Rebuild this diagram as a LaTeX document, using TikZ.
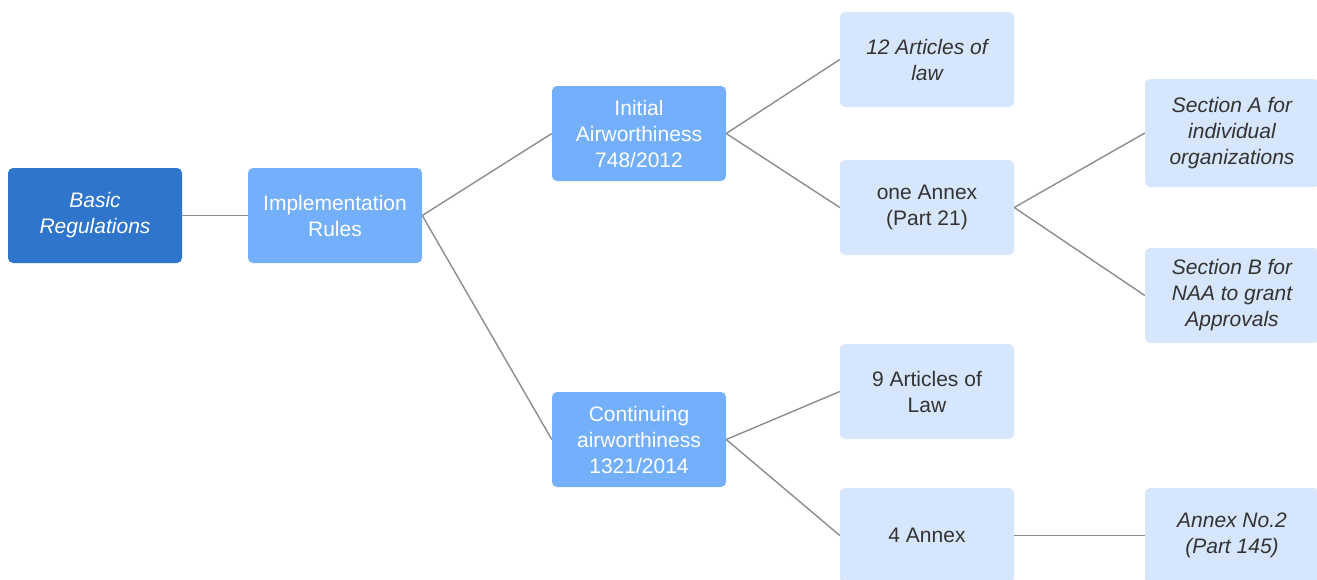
\documentclass[tikz,border=0pt]{standalone}
\usepackage{fontspec}
\setmainfont{Liberation Sans}
\definecolor{rootblue}{HTML}{2F75CB}
\definecolor{midblue}{HTML}{74AFFB}
\definecolor{paleblue}{HTML}{D6E6FC}
\definecolor{linkgray}{HTML}{8C8C8C}
\definecolor{darktext}{HTML}{333333}
\tikzset{
  box/.style={rounded corners=5pt, minimum width=174pt, minimum height=95pt,
    inner sep=0pt, align=center, font=\fontsize{21}{26}\selectfont},
  rootbox/.style={box, fill=rootblue, text=white},
  midbox/.style={box, fill=midblue, text=white},
  leafbox/.style={box, fill=paleblue, text=darktext},
  link/.style={draw=linkgray, line width=1.4pt}
}
\begin{document}
\begin{tikzpicture}[x=1pt,y=-1pt]
\path[use as bounding box] (0,0) rectangle (1317,579);
\clip (0,0) rectangle (1317,579);

% tree nodes
\node[rootbox] (basic) at (95,215.5) {\itshape Basic\\\itshape Regulations};
\node[midbox] (impl) at (335,215.5) {Implementation\\Rules};
\node[midbox] (init) at (639,133.5) {Initial\\Airworthiness\\748/2012};
\node[midbox] (cont) at (639,439.5) {Continuing\\airworthiness\\1321/2014};
\node[leafbox] (art12) at (927,59.5) {\itshape 12 Articles of\\\itshape law};
\node[leafbox] (annex1) at (927,207.5) {one Annex\\(Part 21)};
\node[leafbox] (art9) at (927,391.5) {9 Articles of\\Law};
\node[leafbox] (annex4) at (927,535.5) {4 Annex};
\node[leafbox, minimum height=108pt] (secA) at (1232,133) {\itshape Section A for\\\itshape individual\\\itshape organizations};
\node[leafbox] (secB) at (1232,295.5) {\itshape Section B for\\\itshape NAA to grant\\\itshape Approvals};
\node[leafbox] (annex2) at (1232,535.5) {\itshape Annex No.2\\\itshape (Part 145)};

% connectors
\draw[link] (basic.east) -- (impl.west);
\draw[link] (impl.east) -- (init.west);
\draw[link] (impl.east) -- (cont.west);
\draw[link] (init.east) -- (art12.west);
\draw[link] (init.east) -- (annex1.west);
\draw[link] (annex1.east) -- (secA.west);
\draw[link] (annex1.east) -- (secB.west);
\draw[link] (cont.east) -- (art9.west);
\draw[link] (cont.east) -- (annex4.west);
\draw[link] (annex4.east) -- (annex2.west);
\end{tikzpicture}
\end{document}
